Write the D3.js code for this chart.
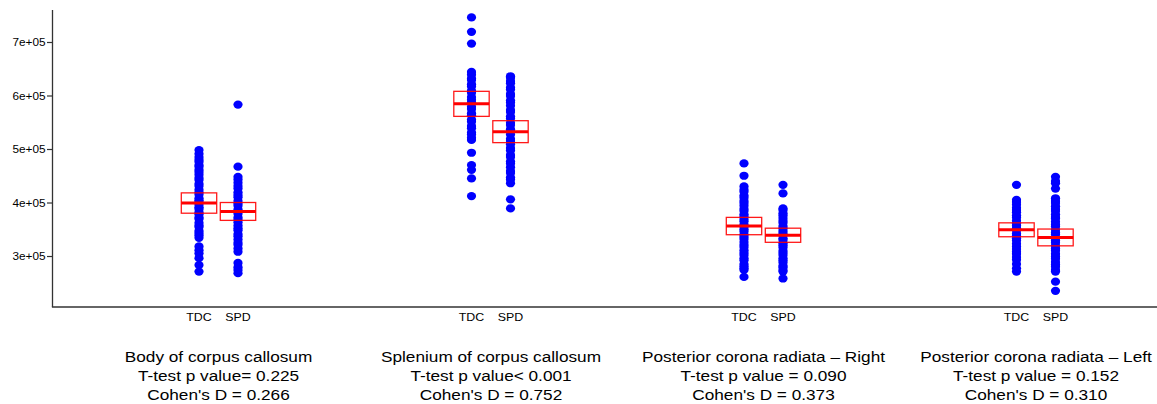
<!DOCTYPE html>
<html>
<head>
<meta charset="utf-8">
<script src="https://cdn.jsdelivr.net/npm/d3@7"></script>
<style>
  html, body { margin: 0; padding: 0; background: #fff; }
  svg { display: block; }
  text { font-family: "Liberation Sans", Arial, Helvetica, sans-serif; fill: #000; }
</style>
</head>
<body>
<svg id="chart" width="1157" height="404"></svg>
<script>
// ---------------- DATA (values in thousands) ----------------
const regions = ["Body of corpus callosum", "Splenium of corpus callosum",
                 "Posterior corona radiata \u2013 Right", "Posterior corona radiata \u2013 Left"];
const groups = ["TDC", "SPD"];
const pLabels = ["T-test p value= 0.225", "T-test p value< 0.001",
                 "T-test p value = 0.090", "T-test p value = 0.152"];
const dLabels = ["Cohen's D = 0.266", "Cohen's D = 0.752",
                 "Cohen's D = 0.373", "Cohen's D = 0.310"];
const yTicks = [300000, 400000, 500000, 600000, 700000];
const yTickLabels = ["3e+05", "4e+05", "5e+05", "6e+05", "7e+05"];

const tdcValues = [
  [498, 491, 485, 480, 476, 470, 467, 461, 457, 452, 446, 442, 435, 431, 424, 419, 415, 408, 404, 401,
   396, 391, 388, 382, 378, 372, 369, 362, 357, 354, 347, 343, 339, 334, 318, 311, 305, 296, 283, 271],
  [746, 719, 697, 644, 639, 632, 629, 621, 617, 609, 605, 597, 592, 587, 579, 575, 567, 563, 555, 551,
   543, 539, 531, 527, 521, 517, 493, 470, 461, 445, 412],
  [473, 450, 430, 424, 420, 413, 409, 403, 399, 394, 388, 384, 378, 374, 369, 365, 359, 355, 350, 346,
   340, 336, 332, 326, 321, 317, 311, 306, 302, 296, 292, 285, 281, 277, 274, 261],
  [433, 405, 401, 396, 390, 386, 382, 376, 372, 366, 361, 357, 352, 348, 342, 338, 333, 329, 323, 318,
   313, 308, 304, 298, 293, 285, 277, 271]
];
const spdValues = [
  [583, 467, 448, 443, 437, 431, 426, 419, 414, 410, 403, 398, 394, 387, 383, 379, 372, 368, 363, 357,
   352, 348, 341, 337, 331, 325, 321, 314, 308, 287, 279, 274, 268],
  [636, 633, 627, 623, 615, 611, 603, 599, 591, 587, 581, 573, 569, 561, 557, 549, 545, 537, 533, 527,
   519, 515, 509, 502, 497, 489, 485, 477, 473, 466, 459, 455, 447, 443, 436, 406, 389],
  [433, 417, 389, 386, 380, 376, 371, 366, 362, 356, 352, 347, 343, 339, 333, 330, 324, 320, 316, 310,
   306, 302, 296, 292, 288, 282, 279, 274, 271, 258],
  [448, 440, 436, 426, 408, 403, 399, 393, 388, 384, 378, 373, 370, 364, 359, 355, 349, 344, 340, 334,
   329, 325, 319, 314, 310, 304, 299, 295, 289, 284, 280, 274, 271, 252, 235]
];
const tdcMean = [399, 584.4, 356, 349];
const tdcSE   = [19, 23.4, 16.2, 13];
const spdMean = [383.3, 532.4, 338.8, 334.7];
const spdSE   = [16.7, 20.5, 13.2, 15.7];

// ---------------- LAYOUT ----------------
const svg = d3.select("#chart");
const SX = 1.18; // horizontal stretch of the source figure
const axisX = 52.5, axisBottom = 307, axisTop = 10;

const y = d3.scaleLinear().domain([204700, 759800]).range([axisBottom, axisTop]);
const xRegion = d3.scalePoint().domain(regions).range([218.5, 1036]);
const xGroup = d3.scalePoint().domain(groups).range([-19.5, 19.5]);

const red = "#ff0000", blue = "#0000ff";

// y axis
const yAxis = d3.axisLeft(y).tickValues(yTicks)
  .tickFormat((d, i) => yTickLabels[i]).tickSize(5.5).tickSizeOuter(0);
const gy = svg.append("g").attr("transform", `translate(${axisX},0)`).call(yAxis);
gy.select(".domain").attr("stroke", "#333").attr("stroke-width", 1.3)
  .attr("d", `M0,${axisTop}V${axisBottom}`);
gy.selectAll(".tick line").attr("stroke", "#333").attr("stroke-width", 1.2);
gy.selectAll(".tick text")
  .attr("x", 0).attr("dy", null).attr("y", 0)
  .attr("dominant-baseline", "central")
  .attr("font-size", 10).attr("fill", "#333")
  .attr("transform", `translate(-7,0) scale(${SX},1)`);

// x axis line
svg.append("line").attr("x1", axisX - 0.6).attr("x2", 1157)
  .attr("y1", axisBottom).attr("y2", axisBottom)
  .attr("stroke", "#333").attr("stroke-width", 1.3);

function stretchedText(g, x, yy, txt, size) {
  return g.append("text")
    .attr("transform", `translate(${x},${yy}) scale(${SX},1)`)
    .attr("text-anchor", "middle").attr("font-size", size).text(txt);
}

const series = [
  {name: "TDC", values: tdcValues, mean: tdcMean, se: tdcSE},
  {name: "SPD", values: spdValues, mean: spdMean, se: spdSE}
];

regions.forEach((r, ri) => {
  const cx = xRegion(r);
  const g = svg.append("g");
  series.forEach(s => {
    const px = cx + xGroup(s.name);
    g.selectAll(null).data(s.values[ri]).enter().append("ellipse")
      .attr("cx", px).attr("cy", d => y(d * 1000)).attr("rx", 4.6).attr("ry", 4.1)
      .attr("fill", blue);
  });
  series.forEach(s => {
    const px = cx + xGroup(s.name);
    const m = s.mean[ri] * 1000, e = s.se[ri] * 1000;
    const hw = 17.7;
    g.append("rect").attr("x", px - hw).attr("width", 2 * hw)
      .attr("y", y(m + e)).attr("height", y(m - e) - y(m + e))
      .attr("fill", "none").attr("stroke", red).attr("stroke-width", 1.3).attr("opacity", 0.9);
    g.append("line").attr("x1", px - hw).attr("x2", px + hw)
      .attr("y1", y(m)).attr("y2", y(m))
      .attr("stroke", red).attr("stroke-width", 3);
  });
  groups.forEach(gname => stretchedText(svg, cx + xGroup(gname), 321, gname, 10.5));
  stretchedText(svg, cx, 362, r, 14.6);
  stretchedText(svg, cx, 381, pLabels[ri], 14.6);
  stretchedText(svg, cx, 400, dLabels[ri], 14.6);
});
</script>
</body>
</html>
